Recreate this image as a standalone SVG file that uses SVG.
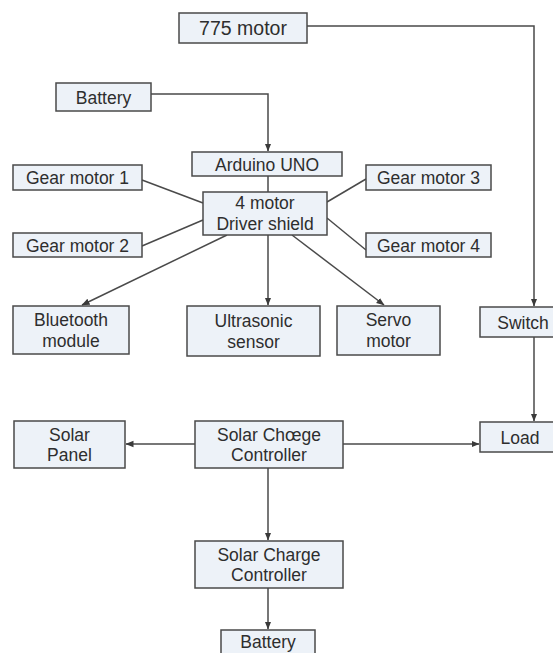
<svg xmlns="http://www.w3.org/2000/svg" width="553" height="653" viewBox="0 0 553 653">
<defs>
<marker id="ah" viewBox="0 0 8 8" refX="7.5" refY="4" markerWidth="8" markerHeight="8" markerUnits="userSpaceOnUse" orient="auto">
<path d="M0,0.8 L8,4 L0,7.2 z" fill="#3a3a3a"/>
</marker>
<style>
.box{fill:#edf2f8;stroke:#4a4a4a;stroke-width:1.5}
.t{font-family:"Liberation Sans","Arial",sans-serif;font-size:17.5px;fill:#2e2e2e;text-anchor:middle}
.c{fill:none;stroke:#4a4a4a;stroke-width:1.5}
.a{marker-end:url(#ah)}
</style>
</defs>
<rect width="553" height="653" fill="#ffffff"/>
<g id="connectors">
<path class="c a" d="M307,26 H534 V306"/>
<path class="c a" d="M151,94 H268 V151"/>
<path class="c" d="M268,176 V192"/>
<path class="c" d="M142,180 L203,203"/>
<path class="c" d="M142,246 L203,220"/>
<path class="c" d="M366,179 L327,202"/>
<path class="c" d="M366,250 L327,218"/>
<path class="c a" d="M227,235 L82,305"/>
<path class="c a" d="M268,235 V305"/>
<path class="c a" d="M292,235 L384,305"/>
<path class="c a" d="M534,337 V421"/>
<path class="c a" d="M195,444 H126"/>
<path class="c a" d="M343,444 H479"/>
<path class="c a" d="M268,468 V540"/>
<path class="c a" d="M268,588 V629"/>
</g>
<g id="motor775"><rect class="box" x="179" y="13" width="128" height="30"/><text class="t" x="243" y="35" style="font-size:19.5px">775 motor</text></g>
<g id="battery1"><rect class="box" x="56" y="83" width="95" height="28"/><text class="t" x="103.5" y="103.5">Battery</text></g>
<g id="arduino"><rect class="box" x="192" y="152" width="150" height="24"/><text class="t" x="267" y="170.5">Arduino UNO</text></g>
<g id="shield"><rect class="box" x="203" y="192" width="124" height="43"/><text class="t" x="265" y="209">4 motor</text><text class="t" x="265" y="229.5">Driver shield</text></g>
<g id="gear1"><rect class="box" x="13" y="165" width="129" height="25"/><text class="t" x="77.5" y="184">Gear motor 1</text></g>
<g id="gear2"><rect class="box" x="13" y="233" width="129" height="24"/><text class="t" x="77.5" y="251.5">Gear motor 2</text></g>
<g id="gear3"><rect class="box" x="366" y="165" width="125" height="25"/><text class="t" x="428.5" y="184">Gear motor 3</text></g>
<g id="gear4"><rect class="box" x="366" y="233" width="125" height="24"/><text class="t" x="428.5" y="251.5">Gear motor 4</text></g>
<g id="bluetooth"><rect class="box" x="13" y="306" width="116" height="48"/><text class="t" x="71" y="326">Bluetooth</text><text class="t" x="71" y="347">module</text></g>
<g id="ultrasonic"><rect class="box" x="187" y="306" width="133" height="50"/><text class="t" x="253.5" y="327">Ultrasonic</text><text class="t" x="253.5" y="348">sensor</text></g>
<g id="servo"><rect class="box" x="337" y="306" width="103" height="49"/><text class="t" x="388.5" y="326">Servo</text><text class="t" x="388.5" y="347">motor</text></g>
<g id="switch"><rect class="box" x="480" y="307" width="80" height="30"/><text class="t" x="523" y="328.5">Switch</text></g>
<g id="load"><rect class="box" x="480" y="422" width="80" height="30"/><text class="t" x="520" y="443.5">Load</text></g>
<g id="solarpanel"><rect class="box" x="14" y="421" width="111" height="47"/><text class="t" x="69.5" y="440.5">Solar</text><text class="t" x="69.5" y="461">Panel</text></g>
<g id="scc1"><rect class="box" x="195" y="421" width="148" height="47"/><text class="t" x="269" y="440.5">Solar Chœge</text><text class="t" x="269" y="461">Controller</text></g>
<g id="scc2"><rect class="box" x="195" y="541" width="148" height="47"/><text class="t" x="269" y="560.5">Solar Charge</text><text class="t" x="269" y="581">Controller</text></g>
<g id="battery2"><rect class="box" x="221" y="630" width="94" height="30"/><text class="t" x="268" y="648">Battery</text></g>
</svg>
